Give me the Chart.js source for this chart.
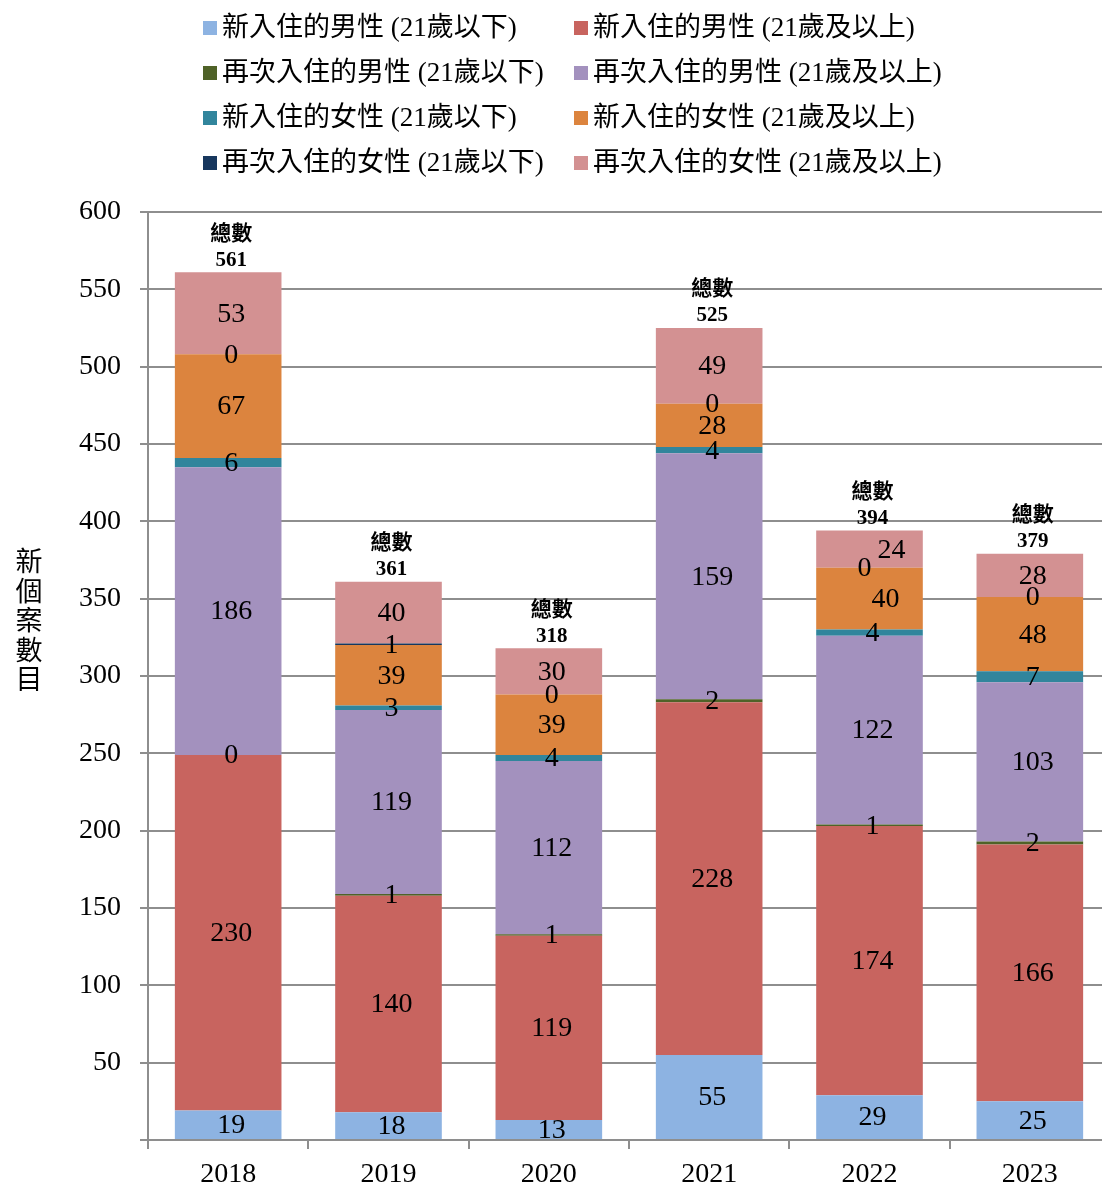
<!DOCTYPE html>
<html>
<head>
<meta charset="utf-8">
<title>新個案數目</title>
<script src="https://cdn.jsdelivr.net/npm/chart.js@4/dist/chart.umd.min.js"></script>
<style>
  html, body { margin: 0; padding: 0; background: #ffffff; overflow: hidden; }
  canvas { display: block; }
</style>
</head>
<body>
<canvas id="chart" width="1120" height="1187"></canvas>
<script>
// Years on the category axis
const years = ['2018', '2019', '2020', '2021', '2022', '2023'];

// Series names, bottom of each stack first
const seriesNames = [
  '新入住的男性 (21歲以下)',
  '新入住的男性 (21歲及以上)',
  '再次入住的男性 (21歲以下)',
  '再次入住的男性 (21歲及以上)',
  '新入住的女性 (21歲以下)',
  '新入住的女性 (21歲及以上)',
  '再次入住的女性 (21歲以下)',
  '再次入住的女性 (21歲及以上)'
];

// Case counts per year
const newMaleUnder21      = [19, 18, 13, 55, 29, 25];
const newMaleAdult        = [230, 140, 119, 228, 174, 166];
const repeatMaleUnder21   = [0, 1, 1, 2, 1, 2];
const repeatMaleAdult     = [186, 119, 112, 159, 122, 103];
const newFemaleUnder21    = [6, 3, 4, 4, 4, 7];
const newFemaleAdult      = [67, 39, 39, 28, 40, 48];
const repeatFemaleUnder21 = [0, 1, 0, 0, 0, 0];
const repeatFemaleAdult   = [53, 40, 30, 49, 24, 28];

// Value axis range
const yMin = 0;
const yMax = 600;
const yStep = 50;

const totalCaption = '總數';
const axisTitle = '新個案數目';

const seriesValues = [
  newMaleUnder21, newMaleAdult, repeatMaleUnder21, repeatMaleAdult,
  newFemaleUnder21, newFemaleAdult, repeatFemaleUnder21, repeatFemaleAdult
];

const seriesColors = [
  '#8db3e2', '#c8645f', '#4f6228', '#a391be',
  '#31859c', '#dc843e', '#17375e', '#d39192'
];

const SERIF = '"Liberation Serif", "Times New Roman", "Noto Sans CJK TC", serif';
const GRID = '#8e8e8e';

// Small horizontal nudges for crowded labels: "year index:series index" -> px
const labelNudge = { '4:6': -8, '4:7': 19, '4:5': 13 };

// Values written inside each segment, plus the stack totals above the bars
const segmentLabels = {
  id: 'segmentLabels',
  afterDatasetsDraw(chart) {
    const ctx = chart.ctx;
    ctx.save();
    ctx.fillStyle = '#000';
    ctx.textAlign = 'center';
    ctx.textBaseline = 'middle';
    ctx.font = '28px ' + SERIF;
    chart.data.datasets.forEach((ds, di) => {
      const meta = chart.getDatasetMeta(di);
      meta.data.forEach((bar, i) => {
        const nudge = labelNudge[i + ':' + di] || 0;
        const cy = (bar.y + bar.base) / 2;
        ctx.fillText(String(ds.data[i]), bar.x + 3 + nudge, cy + 1);
      });
    });
    // totals
    const lastMeta = chart.getDatasetMeta(chart.data.datasets.length - 1);
    ctx.font = 'bold 21px ' + SERIF;
    years.forEach((y, i) => {
      const total = seriesValues.reduce((s, arr) => s + arr[i], 0);
      const top = chart.scales.y.getPixelForValue(total);
      const x = lastMeta.data[i].x + 3;
      ctx.fillText(totalCaption, x, top - 38);
      ctx.fillText(String(total), x, top - 12);
    });
    ctx.restore();
  }
};

// Two-column legend above the plot
const twoColumnLegend = {
  id: 'twoColumnLegend',
  afterDraw(chart) {
    const ctx = chart.ctx;
    ctx.save();
    ctx.font = '27px ' + SERIF;
    ctx.textBaseline = 'middle';
    ctx.textAlign = 'left';
    const colX = [203, 574];
    const rowY0 = 28, rowGap = 45;
    chart.data.datasets.forEach((ds, i) => {
      const col = i % 2, row = Math.floor(i / 2);
      const x = colX[col], y = rowY0 + row * rowGap;
      ctx.fillStyle = ds.backgroundColor;
      ctx.fillRect(x, y - 7, 14, 14);
      ctx.fillStyle = '#000';
      ctx.fillText(ds.label, x + 19, y + 1);
    });
    ctx.restore();
  }
};

// Vertical axis title, one character per line
const stackedAxisTitle = {
  id: 'stackedAxisTitle',
  afterDraw(chart) {
    const ctx = chart.ctx;
    ctx.save();
    ctx.font = '27px "Noto Sans CJK TC", sans-serif';
    ctx.fillStyle = '#000';
    ctx.textAlign = 'center';
    ctx.textBaseline = 'middle';
    const chars = Array.from(axisTitle);
    chars.forEach((ch, k) => ctx.fillText(ch, 29, 561 + k * 29.5));
    ctx.restore();
  }
};

new Chart(document.getElementById('chart'), {
  type: 'bar',
  data: {
    labels: years,
    datasets: seriesValues.map((vals, i) => ({
      label: seriesNames[i],
      data: vals,
      backgroundColor: seriesColors[i],
      borderWidth: 0,
      barPercentage: 0.665,
      categoryPercentage: 1.0
    }))
  },
  options: {
    responsive: false,
    animation: false,
    devicePixelRatio: 1,
    layout: { padding: { top: 212, left: 0, right: 10, bottom: 0 } },
    plugins: {
      legend: { display: false },
      tooltip: { enabled: false },
      title: { display: false }
    },
    scales: {
      x: {
        stacked: true,
        afterFit(scale) { scale.height = 47; },
        grid: {
          offset: true,
          drawOnChartArea: false,
          drawTicks: true,
          tickLength: 9,
          color: GRID,
          lineWidth: 2
        },
        border: { color: GRID, width: 2 },
        ticks: {
          color: '#000',
          padding: 9,
          font: { family: SERIF, size: 28 }
        }
      },
      y: {
        stacked: true,
        min: yMin,
        max: yMax,
        afterFit(scale) { scale.width = 148; },
        grid: {
          color: GRID,
          lineWidth: 2,
          drawTicks: true,
          tickLength: 8
        },
        border: { color: GRID, width: 2 },
        ticks: {
          stepSize: yStep,
          color: '#000',
          padding: 19,
          font: { family: SERIF, size: 28 },
          callback: (v) => (v === 0 ? '' : String(v))
        }
      }
    }
  },
  plugins: [segmentLabels, twoColumnLegend, stackedAxisTitle]
});
</script>
</body>
</html>
